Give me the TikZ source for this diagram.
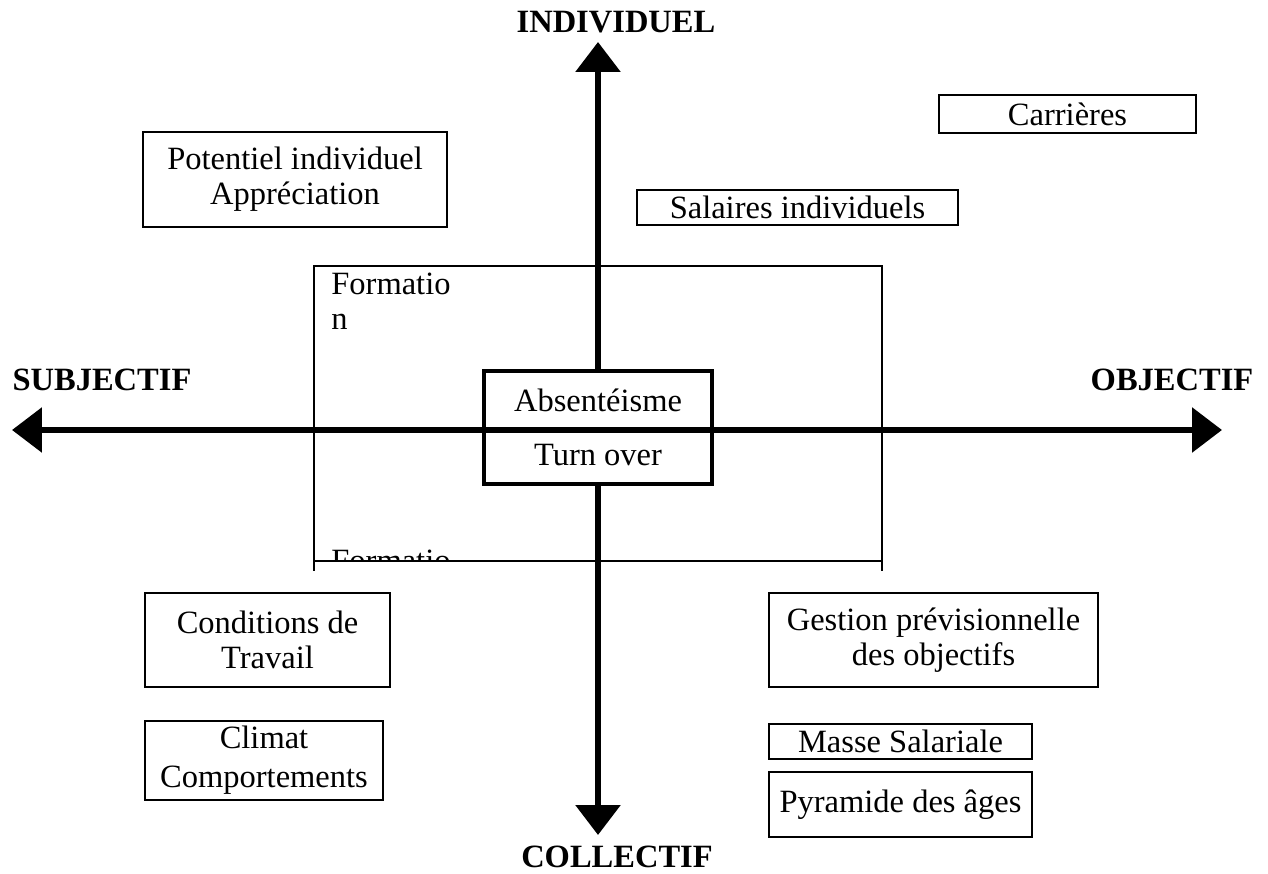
\documentclass[tikz,border=0pt]{standalone}
\usepackage{fontspec}
\setmainfont{Liberation Serif}
\usetikzlibrary{arrows.meta}

\begin{document}
\begin{tikzpicture}[x=0.02cm,y=-0.02cm,
                    >={Triangle[width=0.88cm,length=0.6cm]},
                    font=\fontsize{18.5}{20}\selectfont,
                    axe/.style={line width=3.4pt,<->},
                    boite/.style={draw,line width=1pt,inner sep=0pt,align=center},
                    titre/.style={font=\fontsize{18.5}{20}\selectfont\bfseries}]
\useasboundingbox (0,0) rectangle (1268,874);

% ends of the two axes
\coordinate (haut) at (598,42);
\coordinate (bas) at (598,835);
\coordinate (gauche) at (12,430);
\coordinate (droite) at (1222,430);

\draw[axe] (bas) -- (haut);

% big frame, cut at the bottom
\draw[line width=0.7pt] (314,571) -- (314,266) -- (882,266) -- (882,571)
      (314,561) -- (882,561);
\node[anchor=base west,align=left,inner sep=0pt] (form) at (331,330) {Formatio\\n};
\begin{scope}
  \clip (314,500) rectangle (882,561);
  \node[anchor=base west,inner sep=0pt] (formbas) at (331,572) {Formatio};
\end{scope}

\node[boite,line width=2.8pt,fill=white,minimum width=4.56cm,minimum height=2.26cm]
  (abs) at (598,427.5) {Absentéisme\\[10.6pt]Turn over};

\draw[axe] (gauche) -- (droite);

\node[titre] (indiv) at (616,22) {INDIVIDUEL};
\node[titre] (coll) at (617,857) {COLLECTIF};
\node[titre] (subj) at (102,380) {SUBJECTIF};
\node[titre] (obj) at (1172,380) {OBJECTIF};

\node[boite,minimum width=6.08cm,minimum height=1.9cm] (pot) at (295,179.5)
  {Potentiel individuel\\Appréciation};
\node[boite,minimum width=5.14cm,minimum height=0.76cm] (car) at (1067.5,114) {Carrières};
\node[boite,minimum width=6.42cm,minimum height=0.7cm] (sal) at (797.5,207.5) {Salaires individuels};

\node[boite,minimum width=4.9cm,minimum height=1.88cm] (cond) at (267.5,640)
  {Conditions de\\Travail};
\node[boite,minimum width=4.76cm,minimum height=1.58cm] (clim) at (264,760.5)
  {Climat\\[2pt]Comportements};
\node[boite,minimum width=6.58cm,minimum height=1.88cm] (gest) at (933.5,640)
  {Gestion prévisionnelle\\des objectifs};
\node[boite,minimum width=5.26cm,minimum height=0.7cm] (masse) at (900.5,741.5) {Masse Salariale};
\node[boite,minimum width=5.26cm,minimum height=1.3cm] (pyr) at (900.5,804.5) {Pyramide des âges};
\end{tikzpicture}
\end{document}
